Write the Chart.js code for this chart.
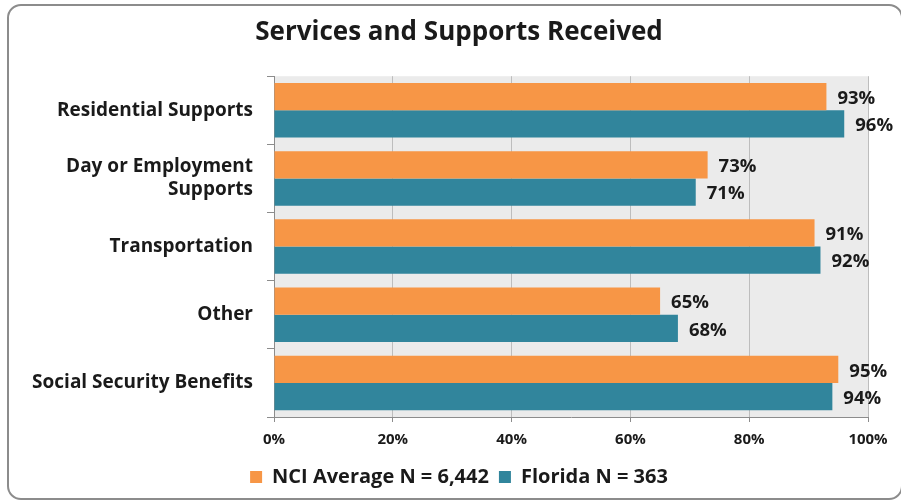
<!DOCTYPE html>
<html lang="en">
<head>
<meta charset="UTF-8">
<title>Services and Supports Received</title>
<script src="https://cdn.jsdelivr.net/npm/chart.js@4.4.0/dist/chart.umd.min.js"></script>
<style>
    html, body { margin: 0; padding: 0; background: #fff; }
    #wrap { position: relative; width: 901px; height: 502px; overflow: hidden; }
    #frame {
        position: absolute; left: 7px; top: 4px; width: 892px; height: 492px;
        border: 2px solid #8c8c8c; border-radius: 14px;
    }
    #chartBox { position: absolute; left: 0; top: 0; width: 901px; height: 502px; }
</style>
</head>
<body>
<div id="wrap">
    <div id="frame"></div>
    <div id="chartBox"><canvas id="servicesChart"></canvas></div>
</div>

<script>
    const categories = [
        'Residential Supports',
        ['Day or Employment', 'Supports'],
        'Transportation',
        'Other',
        'Social Security Benefits'
    ];
    const nciValues = [93, 73, 91, 65, 95];
    const floridaValues = [96, 71, 92, 68, 94];
    const seriesNames = ['NCI Average N = 6,442', 'Florida N = 363'];
    const xTicks = [0, 20, 40, 60, 80, 100];

    const FONT = "'Open Sans', 'DejaVu Sans', sans-serif";

    // grey plot background
    const plotBg = {
        id: 'plotBg',
        beforeDraw(chart) {
            const a = chart.chartArea, ctx = chart.ctx;
            ctx.save();
            ctx.fillStyle = '#ebebeb';
            ctx.fillRect(a.left, a.top, a.right - a.left, a.bottom - a.top);
            ctx.restore();
        }
    };

    // percentage labels at the end of each bar
    const valueLabels = {
        id: 'valueLabels',
        afterDatasetsDraw(chart) {
            const ctx = chart.ctx;
            ctx.save();
            ctx.font = 'bold 18.5px ' + FONT;
            ctx.fillStyle = '#1a1a1a';
            ctx.textAlign = 'left';
            ctx.textBaseline = 'middle';
            chart.data.datasets.forEach((ds, i) => {
                chart.getDatasetMeta(i).data.forEach((bar, j) => {
                    ctx.fillText(ds.data[j] + '%', bar.x + 11, bar.y + 2);
                });
            });
            ctx.restore();
        }
    };

    new Chart(document.getElementById('servicesChart'), {
        type: 'bar',
        data: {
            labels: categories,
            datasets: [{
                label: seriesNames[0],
                data: nciValues,
                backgroundColor: '#f79646'
            }, {
                label: seriesNames[1],
                data: floridaValues,
                backgroundColor: '#31859c'
            }]
        },
        options: {
            indexAxis: 'y',
            responsive: true,
            maintainAspectRatio: false,
            animation: false,
            datasets: {
                bar: { categoryPercentage: 0.8, barPercentage: 1.0 }
            },
            layout: { padding: { left: 20, right: 3, top: 0, bottom: 5 } },
            scales: {
                x: {
                    min: 0,
                    max: 100,
                    afterBuildTicks(scale) {
                        scale.ticks = xTicks.map(v => ({ value: v }));
                    },
                    afterFit(scale) { scale.height = 40; },
                    grid: { color: '#bdbdbd', tickLength: 5, tickColor: '#8c8c8c' },
                    border: { color: '#8c8c8c' },
                    ticks: {
                        callback: v => v + '%',
                        color: '#1a1a1a',
                        padding: 9,
                        font: { family: FONT, size: 15, weight: 'bold' }
                    }
                },
                y: {
                    afterFit(scale) { scale.width = 254; },
                    grid: { drawOnChartArea: false, tickLength: 7, tickColor: '#8c8c8c', offset: true },
                    border: { color: '#8c8c8c' },
                    ticks: {
                        color: '#1a1a1a',
                        padding: 14,
                        font: { family: FONT, size: 19, weight: 'bold', lineHeight: 1.22 }
                    }
                },
                // empty right-hand gutter so the title and legend centre like the original
                gutter: {
                    type: 'category',
                    position: 'right',
                    afterFit(scale) { scale.width = 30; },
                    grid: { display: false },
                    border: { display: false },
                    ticks: { display: false }
                }
            },
            plugins: {
                title: {
                    display: true,
                    text: 'Services and Supports Received',
                    color: '#1a1a1a',
                    font: { family: FONT, size: 26, weight: 'bold' },
                    padding: { top: 17, bottom: 28 }
                },
                legend: {
                    position: 'bottom',
                    labels: {
                        color: '#1a1a1a',
                        boxWidth: 12,
                        boxHeight: 12,
                        padding: 10,
                        font: { family: FONT, size: 20, weight: 'bold' }
                    }
                },
                tooltip: { enabled: false }
            }
        },
        plugins: [plotBg, valueLabels]
    });
</script>
</body>
</html>
